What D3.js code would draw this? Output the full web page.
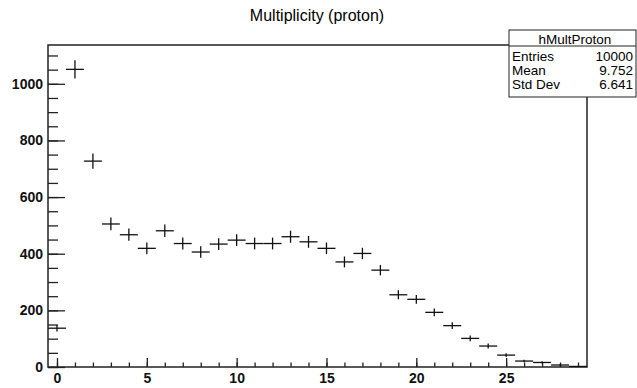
<!DOCTYPE html>
<html>
<head>
<meta charset="utf-8">
<script src="https://cdn.jsdelivr.net/npm/d3@7"></script>
<style>
  body { margin: 0; background: #fff; }
  text { font-family: "Liberation Sans", Arial, sans-serif; }
</style>
</head>
<body>
<div id="chart"></div>
<script>
// histogram contents, one per bin (bins centred on 0..29)
var binCenters = d3.range(0, 30);
var counts = [137, 1051, 727, 505, 467, 419, 481, 436, 406, 434,
              448, 436, 436, 460, 442, 419, 371, 401, 342, 255,
              239, 193, 146, 101, 74, 42, 21, 16, 7, 2];
var xTickLabels = [0, 5, 10, 15, 20, 25];
var yTickLabels = [0, 200, 400, 600, 800, 1000];
var statNames = ["Entries", "Mean", "Std Dev"];
var statValues = ["10000", "9.752", "6.641"];

var width = 637, height = 388;
var frameL = 48, frameR = 587, frameT = 45, frameB = 367;

var svg = d3.select("#chart")
  .append("svg")
    .attr("width", width)
    .attr("height", height);

var x = d3.scaleLinear().domain([-0.5, 29.5]).range([frameL, frameR]);
var y = d3.scaleLinear().domain([0, 1137]).range([frameB, frameT]);

// title
svg.append("text")
  .attr("x", 317).attr("y", 21)
  .attr("text-anchor", "middle")
  .style("font-size", "16px")
  .text("Multiplicity (proton)");

// x axis: minor ticks every bin, major every 5
var xMinor = d3.axisBottom(x).tickValues(d3.range(0, 30)).tickSize(-4.5).tickFormat("");
var xMajor = d3.axisBottom(x).tickValues(xTickLabels).tickSize(-9).tickPadding(6)
  .tickFormat(d3.format("d"));
[xMinor, xMajor].forEach(function(ax) {
  svg.append("g").attr("transform", "translate(0," + frameB + ")").call(ax)
    .call(function(g) { g.select(".domain").remove(); });
});

// y axis: minor every 50, major every 200
var yMinor = d3.axisLeft(y).tickValues(d3.range(0, 1101, 50)).tickSize(-10).tickFormat("");
var yMajor = d3.axisLeft(y).tickValues(yTickLabels).tickSize(-17).tickPadding(5)
  .tickFormat(d3.format("d"));
[yMinor, yMajor].forEach(function(ax) {
  svg.append("g").attr("transform", "translate(" + frameL + ",0)").call(ax)
    .call(function(g) { g.select(".domain").remove(); });
});

svg.selectAll(".tick line").attr("stroke", "#222").attr("stroke-width", 1.3);
svg.selectAll(".tick text")
  .attr("fill", "#111")
  .style("font-size", "14px")
  .style("font-weight", "bold")
  .style("font-family", "'Liberation Sans', Arial, sans-serif");

// frame
svg.append("rect")
  .attr("x", frameL).attr("y", frameT)
  .attr("width", frameR - frameL).attr("height", frameB - frameT)
  .attr("fill", "none").attr("stroke", "#222").attr("stroke-width", 1.5);

// error-bar crosses
var pts = svg.append("g").attr("stroke", "#111").attr("stroke-width", 1.3);
binCenters.forEach(function(c, i) {
  var n = counts[i], e = Math.sqrt(n);
  pts.append("line")
    .attr("x1", x(c - 0.5)).attr("x2", x(c + 0.5))
    .attr("y1", y(n)).attr("y2", y(n));
  pts.append("line")
    .attr("x1", x(c)).attr("x2", x(c))
    .attr("y1", y(n + e)).attr("y2", y(Math.max(0, n - e)));
});

// stats box
var bx = 509, by = 30, bw = 127, bh = 67;
svg.append("rect")
  .attr("x", bx).attr("y", by).attr("width", bw).attr("height", bh)
  .attr("fill", "#fff").attr("stroke", "#222").attr("stroke-width", 1);
svg.append("line")
  .attr("x1", bx).attr("x2", bx + bw).attr("y1", 46).attr("y2", 46)
  .attr("stroke", "#222").attr("stroke-width", 1);
svg.append("text")
  .attr("x", 575).attr("y", 43.5)
  .attr("text-anchor", "middle")
  .style("font-size", "13.5px")
  .text("hMultProton");
statNames.forEach(function(s, i) {
  var yy = 61 + i * 14;
  svg.append("text").attr("x", 512).attr("y", yy)
    .style("font-size", "13.5px").text(s);
  svg.append("text").attr("x", 633).attr("y", yy)
    .attr("text-anchor", "end")
    .style("font-size", "13.5px").text(statValues[i]);
});
</script>
</body>
</html>
